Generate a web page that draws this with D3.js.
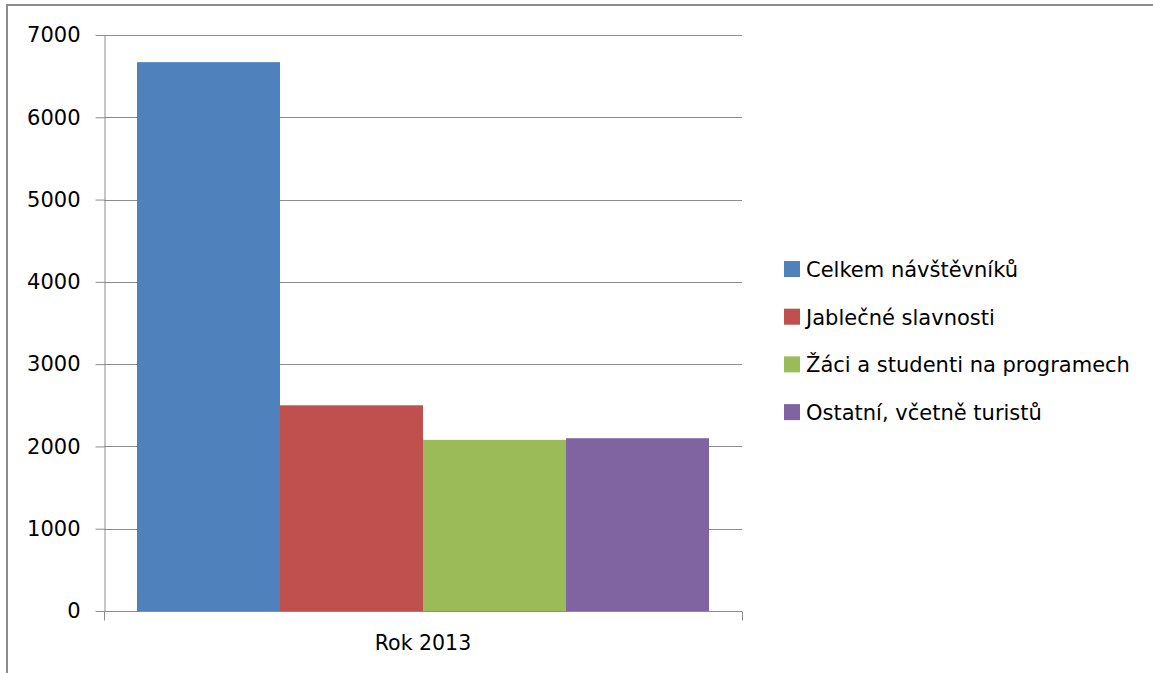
<!DOCTYPE html>
<html>
<head>
<meta charset="utf-8">
<script src="https://cdn.jsdelivr.net/npm/d3@7"></script>
<style>
  body { margin: 0; background: #fff; }
  text { font-family: "DejaVu Sans", sans-serif; fill: #000; }
</style>
</head>
<body>
<script>
var categories = ["Rok 2013"];
var seriesNames = ["Celkem návštěvníků", "Jablečné slavnosti", "Žáci a studenti na programech", "Ostatní, včetně turistů"];
var seriesValues = [6670, 2500, 2080, 2100];
var colors = ["#4f81bd", "#c0504d", "#9bbb59", "#8064a2"];
var yTicks = [0, 1000, 2000, 3000, 4000, 5000, 6000, 7000];

var W = 1153, H = 673;
var plot = { left: 104, right: 742, top: 35, bottom: 611 };

var svg = d3.select("body").append("svg")
    .attr("width", W)
    .attr("height", H);

// outer frame (only top and left edges visible)
svg.append("path")
    .attr("d", "M7,673 V5 H1153")
    .attr("fill", "none")
    .attr("stroke", "#8c8c8c")
    .attr("stroke-width", 2);

var y = d3.scaleLinear().domain([0, 7000]).range([plot.bottom, plot.top]);
var x0 = d3.scaleBand().domain(categories).range([plot.left, plot.right]).paddingInner(0).paddingOuter(0.0577);
var x1 = d3.scaleBand().domain(seriesNames).range([0, x0.bandwidth()]);

// gridlines
svg.append("g").selectAll("line")
    .data(yTicks.filter(function (d) { return d > 0; }))
    .enter().append("line")
    .attr("x1", plot.left).attr("x2", plot.right)
    .attr("y1", function (d) { return Math.round(y(d)) + 0.5; })
    .attr("y2", function (d) { return Math.round(y(d)) + 0.5; })
    .attr("stroke", "#8c8c8c")
    .attr("stroke-width", 1);

// bars
var g = svg.append("g");
categories.forEach(function (c) {
    g.selectAll(".bar")
        .data(seriesValues)
        .enter().append("rect")
        .attr("class", "bar")
        .attr("x", function (d, i) { return x0(c) + x1(seriesNames[i]); })
        .attr("y", function (d) { return y(d); })
        .attr("width", x1.bandwidth())
        .attr("height", function (d) { return y(0) - y(d); })
        .attr("fill", function (d, i) { return colors[i]; });
});

// y axis
var yAxis = d3.axisLeft(y).tickValues(yTicks).tickFormat(d3.format("d"))
    .tickSize(9).tickSizeOuter(0).tickPadding(15);
var gY = svg.append("g")
    .attr("transform", "translate(" + (plot.left + 0.5) + ",0)")
    .call(yAxis);
gY.select(".domain").attr("stroke", "#8c8c8c");
gY.selectAll(".tick line").attr("stroke", "#8c8c8c");
gY.selectAll(".tick text").style("font-size", "21px").style("font-family", "DejaVu Sans").attr("fill", "#000");

// x axis
var xAxis = d3.axisBottom(x0).tickSize(0).tickPadding(24);
var gX = svg.append("g")
    .attr("transform", "translate(0," + (plot.bottom + 0.5) + ")")
    .call(xAxis);
gX.select(".domain").attr("stroke", "#8c8c8c").attr("d", "M" + plot.left + ",0H" + plot.right);
gX.selectAll(".tick text").style("font-size", "20.5px").style("font-family", "DejaVu Sans").attr("fill", "#000");
[plot.left, plot.right].forEach(function (px) {
    gX.append("line").attr("x1", px + 0.5).attr("x2", px + 0.5).attr("y1", 0).attr("y2", 9).attr("stroke", "#8c8c8c");
});

// legend
var legend = svg.append("g").attr("transform", "translate(784,261)");
var items = legend.selectAll("g")
    .data(seriesNames)
    .enter().append("g")
    .attr("transform", function (d, i) { return "translate(0," + (i * 47.7) + ")"; });
items.append("rect")
    .attr("width", 16).attr("height", 16)
    .attr("fill", function (d, i) { return colors[i]; });
items.append("text")
    .attr("x", 22).attr("y", 16)
    .style("font-size", "21px")
    .text(function (d) { return d; });
</script>
</body>
</html>
